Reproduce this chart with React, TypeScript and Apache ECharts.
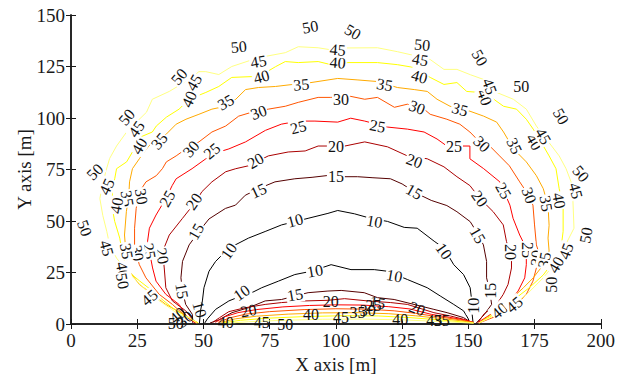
import React, { useEffect, useRef } from "react";
import * as echarts from "echarts";

const levels = [10, 15, 20, 25, 30, 35, 40, 45, 50];
const levelColors = ["#000000", "#550000", "#aa0000", "#ff0000", "#ff5500", "#ffaa00", "#ffff00", "#ffff80", "#ffffff"];
const xTicks = [0, 25, 50, 75, 100, 125, 150, 175, 200];
const yTicks = [0, 25, 50, 75, 100, 125, 150];

const outer10 = [[48.5,0.5],[48.9,6.4],[49.6,11.2],[50.2,17.6],[52.1,25.6],[54.6,30.4],[59.6,36.8],[67,41.7],[73.3,44.9],[79.5,48.1],[84.5,49.7],[89.5,51.3],[97,53.7],[100.7,55.1],[107,53.5],[113.1,51.3],[119.5,49.8],[125.8,46.9],[130.7,46.5],[137.1,40.2],[140.8,36.8],[144.5,28.8],[148.2,24],[150.7,17.6],[151.3,11.2],[151.3,6.4],[151.8,0.5]];
const outer15 = [[46,0.5],[45.8,4.7],[43.3,9.5],[42.1,16],[41.5,22.4],[42.1,30.4],[44.6,38.4],[48.3,44.9],[52.1,51],[58.3,56.1],[62.1,57.7],[65.8,62.5],[70.8,65.7],[77,69],[84.5,70.5],[91,71.2],[97,72.1],[101.9,71.5],[108.2,71.5],[114,71],[120.6,70.5],[125,68],[130.7,63.3],[136,60],[141.9,57.5],[145.7,54.5],[150.7,49.7],[153.5,44],[155.7,38.4],[156.9,30.4],[156.9,22.4],[158.1,16],[158.8,9.5],[156,4.5],[153,0.5]];
const outer20 = [[47,0.5],[43.3,6.4],[38.3,11.2],[35.8,17.6],[35.2,27.2],[34.6,35.2],[37.1,43.2],[42.1,51.3],[47.1,59.4],[49.4,64.2],[53.2,69],[58.4,73.9],[62.2,75.4],[67,76.8],[74.5,81.6],[82,83.5],[88.4,84],[93.3,86.4],[103.4,86.4],[110.9,88.4],[119.5,86],[127,81.6],[134.5,80.2],[140.8,76.3],[145.7,71.5],[150.6,67.2],[154.4,60.9],[159.4,54.5],[163.2,48.1],[164.4,40.1],[166.3,32],[166.3,27.2],[165,19.2],[163.2,14.4],[160.7,9.5],[156,5],[153.5,0.5]];
const outer25 = [[47,0.5],[44,3],[40.8,9.5],[35.8,14.4],[32.1,20.8],[30.8,27.2],[29.6,35.2],[28.9,40.1],[29.6,46.5],[32.1,52.9],[35.8,60.9],[38.2,67.2],[39.7,70.5],[45.7,75.4],[50.9,80.2],[55.8,83.5],[59.6,85],[65.9,88.4],[73.4,94],[79.4,97],[85.8,98.5],[92.1,98.5],[100.7,98],[105.6,99.9],[110.9,98.5],[119.5,95.6],[127,94.6],[133.3,93.2],[138.2,89.8],[141.9,86.4],[150.6,86.4],[150.6,80.2],[155.8,75.4],[161.9,69],[165.7,57.7],[166.9,51.3],[169.4,43.2],[171.9,36.8],[171.9,28.8],[171.3,22.4],[168.8,16],[165.7,11.2],[160,6],[154,1]];
const outer30 = [[47.5,0.5],[43,4],[38.3,9.5],[33.3,14.4],[28.3,22.4],[25.8,28.8],[24,36.8],[24,46.5],[24.6,56.1],[25.8,64.1],[28.3,69],[32.2,72],[34.5,75.4],[36,78.7],[39.7,81.6],[43.4,85],[48.3,88.4],[53.2,93.2],[58.4,96.1],[63.3,100.9],[68.2,102.8],[74.5,104.3],[80.9,105.7],[85.8,107.6],[93.3,110],[98.1,110],[105.6,110.5],[110.9,109.1],[115.7,110],[122.1,105.2],[127,106.7],[133.3,104.3],[135.6,101.8],[141.9,99.4],[146.8,97],[150.6,93.2],[153.2,89.8],[158.1,86.4],[161.8,81.6],[165.5,76.8],[169.4,69],[172,64],[174.4,57.7],[175,48.1],[175.7,38.4],[176.9,33.6],[175.7,27.2],[174.4,20.8],[171.9,14.4],[168.2,9.5],[161,4],[154,0.5]];
const outer35 = [[48,0.5],[42,5],[35.8,9.5],[30.8,14.4],[25.8,19.2],[22.1,25.6],[20.8,33.6],[20.2,43.2],[20.9,54.5],[21.8,62],[22.1,69],[23.2,75.4],[25.8,80.2],[28.5,85],[30.7,88.4],[36,92.2],[39.7,97],[43.4,99.4],[48.3,101.8],[53.2,104.3],[58.4,105.7],[62.2,109.1],[65.9,113.8],[70.8,114.8],[77.2,115.3],[83.1,116.2],[90.6,117.2],[100.7,119.2],[108,118.5],[115.7,117.7],[123.2,114.8],[129.6,113.8],[134.5,112.9],[138.2,109.1],[143.1,105.7],[150.6,103.3],[155.8,100.9],[160.7,98],[163.3,93.2],[165.5,88.4],[168.2,83.5],[171.9,78.7],[175.7,72],[178.3,65.7],[180.1,57.5],[180.5,47.9],[180.1,41.7],[180.5,35.4],[178.3,28.7],[174.5,22.4],[170.8,17.6],[165.5,11.3],[160.7,6.5],[154,0.5]];
const outer40 = [[48,0.5],[43,4],[38.2,7.9],[35,11.3],[30.7,16.1],[25.8,21],[21.3,25.8],[19.5,33.5],[18.4,41.7],[16.5,49.8],[15.4,57.5],[15.7,65.7],[16.5,70.5],[17.2,75.4],[21,78.7],[23.2,83.5],[24.7,88.4],[27,91.2],[30.7,93.2],[32.2,96.1],[36,100.4],[40.8,104.3],[43.4,107.6],[47.2,110.5],[50.9,112.4],[55.8,115.3],[60.7,119.7],[68.2,120.1],[73.4,122],[77.2,124.9],[80.9,127.4],[85.8,126.9],[93.3,127.4],[98.1,125.9],[104.5,126.9],[115.7,126.9],[123.2,125.9],[129.6,124.5],[135.6,119.7],[140.8,116.3],[145.7,117.2],[149.4,112.9],[154.3,112.4],[159.6,109.1],[163.3,105.7],[168.2,104.3],[171.9,99.4],[174.5,94.6],[176.8,89.8],[180.5,81.6],[183.1,75.4],[184.3,65.7],[185.8,57.5],[185.8,45],[185,36.8],[183.1,32],[178.3,23.8],[173,17.6],[168.2,12.8],[163.3,7.9],[159.6,4.6],[154,0.5]];
const outer45 = [[47.5,0.5],[44.6,3.1],[40.8,4.6],[37.1,7.9],[33.3,11.3],[28.5,16.1],[24.7,21],[21,25.8],[17.2,32],[14.6,38.3],[13.5,45],[12,52.7],[10.9,60.9],[11.6,65.7],[13.1,73.9],[14.6,80.4],[17.2,86.4],[21,93.2],[24.7,98],[28.5,102.8],[30.7,109.1],[37.1,112.9],[44.6,118.7],[48.3,122.5],[50.9,122.5],[55.8,121.1],[60.7,125],[70.8,129.3],[80.9,131.7],[85.8,134.6],[93.3,134.1],[98.1,133.1],[104,134],[115.7,134.1],[123.2,132.2],[129,130.5],[135.6,128.4],[140.8,123.6],[145.7,123.6],[150.8,121],[155.8,118.7],[160.7,112.4],[167,109.1],[171.9,104.3],[175.7,96.1],[179.4,89.9],[184.3,81.6],[186.9,75.4],[188.8,69],[189.5,59.5],[189.9,46.5],[188,41.7],[184.3,32],[178.3,22.4],[171.9,14.2],[165.5,7.9],[160.7,4.6],[154,0.5]];

const inner10 = [[50.5,0.5],[51.5,2.5],[54.6,7.1],[59.6,11.2],[64,13.5],[67,14.4],[72,17.6],[78.3,20.8],[84.5,24],[90.7,25.6],[98.2,28.8],[105.7,26.4],[114.5,26.4],[119.5,25.6],[127,21.6],[134.5,17.6],[139.4,13.6],[144.5,9.5],[148.2,6.4],[150,2.5],[150.5,0.5]];
const inner15 = [[52.5,0.5],[55.8,2],[60.8,5.5],[67,7.9],[73.3,11.2],[79.5,11.9],[84.5,13.6],[89.5,15.2],[97,16],[102,16.3],[110.7,15.2],[115.7,12.8],[122,11.9],[129.5,9.5],[137,7.1],[142,5.5],[148.2,3.1],[151,0.8]];
const inner20 = [[53.5,0.8],[56,3],[59.6,6],[65.8,7.9],[73.3,9.5],[79.5,10.4],[88.3,11.2],[97,11.5],[103.3,12.3],[112,11.2],[120.7,10.4],[127,9.5],[137,5.5],[143.2,3.9],[148.2,2.3],[151.5,0.8]];
const inner25 = [[54.5,0.8],[58,3.5],[63,5.5],[70,7],[80,8.3],[90,9],[100,9.3],[110,9.2],[120,8.4],[128,7.3],[136,4.7],[143,3.2],[148.5,2],[152,0.8]];
const inner30 = [[55.5,0.8],[60,3],[66,4.8],[75,6],[88,7],[100,7.4],[112,7.2],[122,6.4],[130,5.2],[138,3.6],[145,2.4],[152,0.8]];
const inner35 = [[56.5,0.8],[62,2.5],[70,3.8],[82,4.8],[95,5.4],[108,5.5],[120,5],[130,4],[140,2.6],[147,1.6],[152,0.6]];
const inner40 = [[57.5,0.6],[64,1.8],[74,2.8],[88,3.6],[102,4],[116,3.9],[128,3.1],[140,1.9],[152,0.5]];
const inner45 = [[59,0.4],[67,1.1],[80,1.8],[95,2.3],[110,2.4],[125,2],[140,1.2],[152,0.4]];

// contour label anchors: [x, y, angle]
const labels10 = [[59.6,35.4,55],[84.6,50.3,15],[114.6,49.8,-10],[140.8,35.4,-55],[48.6,7,-75],[152.1,8.9,90],[64.4,15.2,35],[92.1,25.8,10],[122.1,23.4,-10]];
const labels15 = [[70.8,64.7,25],[47.2,44.9,60],[41.9,16.1,-80],[100,71.5,0],[129.6,64.2,-30],[153.6,43.1,-60],[158.4,16.1,90],[84.6,14.2,10],[115.7,10.4,-10]];
const labels20 = [[69.7,79.2,30],[46.4,59.5,55],[34.5,33,-80],[100,86,0],[129.6,79.2,-20],[154.3,60.9,-55],[165.9,34.9,-90],[67,6.5,10],[98.1,10.8,0],[130.7,7.5,-20]];
const labels25 = [[85.8,95.6,15],[53.2,84,40],[36.3,60.9,60],[29.6,35.4,-80],[115.7,96.1,-10],[144.6,86.4,0],[163.3,64.7,-60],[172.3,35.9,-90],[114.2,8.9,0]];
const labels30 = [[70.8,102.8,20],[45.3,85,50],[26.6,61.9,-80],[25.1,34.4,-80],[101.9,109.1,0],[130.7,105.2,-20],[155.1,87.4,-45],[173,62.4,-70],[175.7,32,85],[112,6.5,0],[43,2.4,40]];
const labels35 = [[58.4,107.6,30],[86.9,116.2,5],[33.3,88.8,50],[21.3,60.9,-80],[21,35.4,-80],[118.4,116.2,-10],[146.8,104.2,-15],[167.4,86.4,-65],[179.4,58.5,-80],[178.7,31,80],[108.2,5.5,0],[140,1.6,0]];
const labels40 = [[71.9,120.1,15],[44.6,109.1,65],[25.8,86.4,60],[17.2,57.5,80],[19.5,26.2,-80],[100.7,126.9,-5],[131.5,120.1,-15],[156.2,110,-70],[174.9,88.4,-60],[184.3,59.9,-80],[183.1,28.7,60],[161.8,6.5,40],[90.6,4.6,0],[124.3,2.2,0],[58.4,0.7,0],[40.2,4.2,40]];
const labels45 = [[70.8,127.4,10],[46.4,117.2,60],[24.7,94.6,55],[13.5,66.7,65],[13.5,36.8,-75],[29.6,12.8,40],[100.7,133.1,-5],[131.8,128.3,-10],[158.1,115.3,-70],[178.3,91.2,-60],[190.6,64.7,-75],[186.9,35.4,70],[167.4,9.4,40],[101.9,3.1,0],[137.1,1.7,0],[72,0.8,0]];
const labels50 = [[63.3,134.6,5],[90.3,144.2,10],[106.4,141.8,-30],[132.6,135.6,-5],[154.3,129.3,-60],[170,115.3,0],[185,100.8,-60],[192.5,73,-50],[194.4,43.1,80],[181.3,19,90],[40.8,120.1,50],[21,100.4,50],[9,73.9,45],[5.2,46.5,-70],[19.5,20.9,-80],[80.9,0,0],[39.5,0.2,0]];

const outers = [outer10, outer15, outer20, outer25, outer30, outer35, outer40, outer45];
const inners = [inner10, inner15, inner20, inner25, inner30, inner35, inner40, inner45];
const labelSets = [labels10, labels15, labels20, labels25, labels30, labels35, labels40, labels45, labels50];

const FONT = "Liberation Serif";

export default function App() {
  const ref = useRef<HTMLDivElement>(null);
  useEffect(() => {
    if (!ref.current) return;
    const chart = echarts.init(ref.current, null, { renderer: "svg" });
    const series: any[] = [];
    outers.forEach((pts, i) => {
      [pts, inners[i]].forEach((d) => {
        series.push({
          type: "line",
          data: d,
          showSymbol: false,
          symbol: "none",
          lineStyle: { color: levelColors[i], width: 1 },
          silent: true,
          z: 2,
        });
      });
    });
    labelSets.forEach((set, i) => {
      const text = String(levels[i]);
      series.push({
        type: "custom",
        silent: true,
        z: 4,
        clip: false,
        data: set,
        renderItem: (params: any, api: any) => {
          const x = api.value(0);
          const y = api.value(1);
          const ang = api.value(2);
          const pt = api.coord([x, y]);
          const dense = y < 12 && ((x > 50 && x < 150) || (x > 36 && x < 50));
          return {
            type: "text",
            x: pt[0],
            y: pt[1],
            rotation: (ang * Math.PI) / 180,
            style: {
              text,
              fontFamily: FONT,
              fontSize: 16,
              fill: "#111111",
              align: "center",
              verticalAlign: "middle",
              backgroundColor: dense ? undefined : "#ffffff",
              padding: [0, 1],
            },
          };
        },
      });
    });
    const axisCommon = {
      axisLine: { show: true, lineStyle: { color: "#1a1a1a", width: 1.5 } },
      axisTick: { show: true, inside: true, length: 5, lineStyle: { color: "#1a1a1a", width: 1 } },
      splitLine: { show: false },
    };
    chart.setOption({
      animation: false,
      backgroundColor: "#ffffff",
      textStyle: { fontFamily: FONT },
      grid: { left: 71, top: 15, right: 13, bottom: 53, containLabel: false },
      xAxis: [
        {
          type: "value", min: 0, max: 200, interval: 25, position: "bottom",
          ...axisCommon,
          axisLabel: { fontFamily: FONT, fontSize: 19, color: "#1a1a1a", margin: 7, formatter: (v: number) => (xTicks.includes(v) ? String(v) : "") },
          name: "X axis [m]", nameLocation: "middle", nameGap: 31, nameMoveOverlap: false,
          nameTextStyle: { fontFamily: FONT, fontSize: 19, color: "#1a1a1a" },
        },
        { type: "value", min: 0, max: 200, interval: 25, position: "top", ...axisCommon, axisLabel: { show: false } },
      ],
      yAxis: [
        {
          type: "value", min: 0, max: 150, interval: 25, position: "left",
          ...axisCommon,
          axisLabel: { fontFamily: FONT, fontSize: 19, color: "#1a1a1a", margin: 6, formatter: (v: number) => (yTicks.includes(v) ? String(v) : "") },
          name: "Y axis [m]", nameLocation: "middle", nameGap: 37, nameRotate: 90, nameMoveOverlap: false,
          nameTextStyle: { fontFamily: FONT, fontSize: 19, color: "#1a1a1a" },
        },
        { type: "value", min: 0, max: 150, interval: 25, position: "right", ...axisCommon, axisLabel: { show: false } },
      ],
      series,
    });
    return () => chart.dispose();
  }, []);
  return <div ref={ref} style={{ position: "fixed", left: 0, top: 0, width: 618, height: 379 }} />;
}
